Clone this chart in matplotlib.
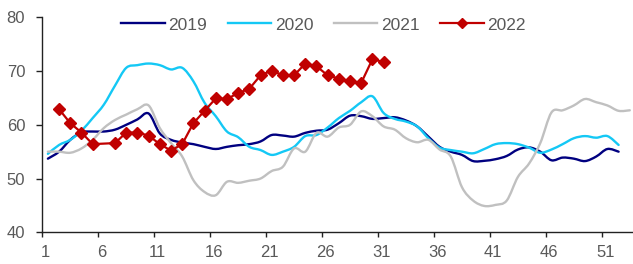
import numpy as np
import matplotlib
matplotlib.use("Agg")
import matplotlib.pyplot as plt
from matplotlib.path import Path
from matplotlib.patches import PathPatch
from matplotlib.lines import Line2D

plt.rcParams['font.family'] = ['Liberation Sans', 'DejaVu Sans']

weeks_2019 = list(range(1, 53))
v2019 = [53.7, 55.0, 57.2, 58.6, 58.75, 58.75, 59.1, 60.0, 61.0, 62.1,
         58.4, 57.2, 56.7, 56.4, 55.9, 55.5, 55.9, 56.2, 56.4, 56.9,
         58.1, 58.0, 57.8, 58.5, 58.9, 59.1, 60.3, 61.7, 61.6, 61.1,
         61.25, 61.4, 60.8, 59.7, 57.8, 55.9, 55.0, 54.4, 53.25, 53.3,
         53.6, 54.2, 55.4, 55.8, 55.0, 53.4, 53.9, 53.7, 53.25, 54.1,
         55.5, 55.0]

weeks_2020 = list(range(1, 53))
v2020 = [54.6, 56.25, 57.2, 58.9, 61.25, 63.75, 67.3, 70.6, 71.1, 71.4,
         71.1, 70.3, 70.6, 68.1, 64.1, 61.6, 58.75, 57.7, 55.9, 55.3,
         54.4, 55.0, 55.9, 57.9, 58.1, 59.5, 61.25, 62.6, 64.2, 65.3,
         62.2, 61.1, 60.6, 59.7, 57.5, 55.75, 55.3, 55.0, 54.7, 55.5,
         56.4, 56.6, 56.4, 55.75, 54.8, 55.4, 56.4, 57.5, 57.9, 57.6,
         57.9, 56.25]

weeks_2021 = list(range(1, 54))
v2021 = [55.0, 55.0, 54.8, 55.6, 57.2, 59.4, 60.9, 61.9, 62.9, 63.6,
         59.4, 56.6, 54.1, 49.7, 47.5, 46.9, 49.4, 49.2, 49.6, 50.0,
         51.4, 52.2, 55.6, 55.0, 58.5, 57.8, 59.5, 60.0, 62.5, 61.6,
         59.7, 59.1, 57.5, 56.75, 57.2, 55.4, 54.1, 48.4, 45.9, 44.9,
         45.1, 45.9, 50.3, 52.8, 56.6, 62.3, 62.7, 63.6, 64.8, 64.2,
         63.6, 62.6, 62.7]

weeks_2022 = [2, 3, 4, 5, 7, 8, 9, 10, 11, 12, 13, 14, 15, 16, 17, 18, 19,
              20, 21, 22, 23, 24, 25, 26, 27, 28, 29, 30, 31]
v2022 = [62.9, 60.3, 58.56, 56.4, 56.6, 58.56, 58.56, 58.0, 56.4, 55.2,
         56.4, 60.3, 62.6, 64.9, 64.8, 65.9, 66.7, 69.2, 70.1, 69.2,
         69.2, 71.4, 70.9, 69.2, 68.6, 68.1, 67.8, 72.2, 71.7]

tick_labels = ['1', '6', '11', '16', '21', '26', '31', '36', '41', '46', '51']

C2019, C2020, C2021, C2022 = '#000080', '#14C8F5', '#C0C0C0', '#C00000'


def smooth_path(xs, ys):
    """Bezier path through the points (Excel-style smoothed line)."""
    p = np.column_stack([xs, ys]).astype(float)
    n = len(p)
    verts = [p[0]]
    codes = [Path.MOVETO]
    for i in range(n - 1):
        p0 = p[i - 1] if i > 0 else p[i]
        p1, p2 = p[i], p[i + 1]
        p3 = p[i + 2] if i + 2 < n else p[i + 1]
        c1 = p1 + (p2 - p0) / 6.0
        c2 = p2 - (p3 - p1) / 6.0
        verts += [c1, c2, p2]
        codes += [Path.CURVE4] * 3
    return Path(verts, codes)


W, H = 633, 264
fig = plt.figure(figsize=(W / 100, H / 100), dpi=100)
ax = fig.add_axes([42.3 / W, 1 - 232.3 / H, (635.4 - 42.3) / W, (232.3 - 17.3) / H])

for xs, ys, c in [(weeks_2019, v2019, C2019), (weeks_2020, v2020, C2020),
                  (weeks_2021, v2021, C2021)]:
    ax.add_patch(PathPatch(smooth_path(xs, ys), facecolor='none', edgecolor=c,
                           lw=1.7, capstyle='round', joinstyle='round'))
ax.plot(weeks_2022, v2022, color=C2022, lw=1.6, marker='D', ms=6.4,
        mec=C2022, mfc=C2022)

ax.set_xlim(0.5, 53.5)
ax.set_ylim(40, 80)
ax.set_yticks([40, 50, 60, 70, 80])
tick_pos = [int(t) for t in tick_labels]
ax.set_xticks([p - 0.5 for p in tick_pos])
ax.set_xticklabels([])
for p, lab in zip(tick_pos, tick_labels):
    ax.text(p - 0.2, -0.058, lab, transform=ax.get_xaxis_transform(), ha='center',
            va='top', fontsize=12, color='#595959')

for s in ['top', 'right']:
    ax.spines[s].set_visible(False)
for s in ['left', 'bottom']:
    ax.spines[s].set_color('#222222')
    ax.spines[s].set_linewidth(1.0)
ax.tick_params(axis='both', direction='out', width=1.0, color='#222222',
               labelsize=12, labelcolor='#595959')
ax.tick_params(axis='y', length=4.3, pad=8)
ax.tick_params(axis='x', length=3.8)

handles = [Line2D([], [], color=C2019, lw=1.7),
           Line2D([], [], color=C2020, lw=1.7),
           Line2D([], [], color=C2021, lw=1.7),
           Line2D([], [], color=C2022, lw=1.6, marker='D', ms=5.0)]
leg = ax.legend(handles, ['2019', '2020', '2021', '2022'], loc='center',
                bbox_to_anchor=(323.5 / W, 1 - 25 / H),
                bbox_transform=fig.transFigure, ncol=4, frameon=False,
                fontsize=12.5, handlelength=2.5, handletextpad=0.2,
                columnspacing=1.2, borderpad=0)
for t in leg.get_texts():
    t.set_color('#595959')

fig.savefig('out.png', dpi=100)
